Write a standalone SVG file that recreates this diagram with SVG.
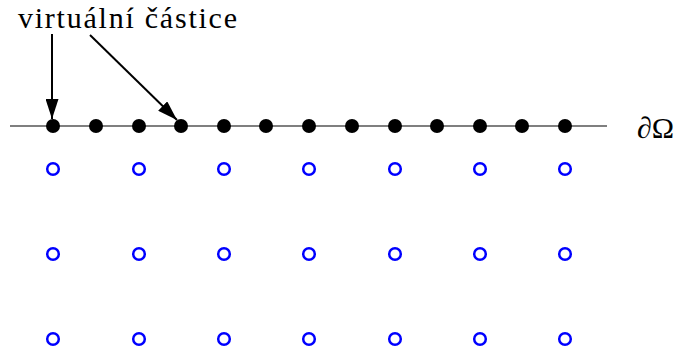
<svg xmlns="http://www.w3.org/2000/svg" width="681" height="358" viewBox="0 0 681 358">
<style>
.lbl{font-family:"Liberation Serif","DejaVu Serif",serif;font-size:30px;fill:#000}
.p{fill:#000}
.g{fill:none;stroke:#0000ff;stroke-width:2.5}
.c{stroke:#000;stroke-width:2;fill:none}
</style>
<defs>
<marker id="ah" viewBox="0 0 20 13" refX="20" refY="6.5" markerWidth="20" markerHeight="13" markerUnits="userSpaceOnUse" orient="auto">
<path d="M0,0 L20,6.5 L0,13 Z" fill="#000"/>
</marker>
</defs>
<line x1="10" y1="126" x2="607" y2="126" stroke="#555" stroke-width="1.5"/>
<g id="boundary">
<circle class="p" cx="53" cy="126" r="7"/>
<circle class="p" cx="96" cy="126" r="7"/>
<circle class="p" cx="139" cy="126" r="7"/>
<circle class="p" cx="181" cy="126" r="7"/>
<circle class="p" cx="224" cy="126" r="7"/>
<circle class="p" cx="266" cy="126" r="7"/>
<circle class="p" cx="309" cy="126" r="7"/>
<circle class="p" cx="352" cy="126" r="7"/>
<circle class="p" cx="395" cy="126" r="7"/>
<circle class="p" cx="437" cy="126" r="7"/>
<circle class="p" cx="480" cy="126" r="7"/>
<circle class="p" cx="522" cy="126" r="7"/>
<circle class="p" cx="565" cy="126" r="7"/>
</g>
<g id="interior">
<circle class="g" cx="53" cy="169" r="5.8"/><circle class="g" cx="139" cy="169" r="5.8"/><circle class="g" cx="224" cy="169" r="5.8"/><circle class="g" cx="309" cy="169" r="5.8"/><circle class="g" cx="395" cy="169" r="5.8"/><circle class="g" cx="480" cy="169" r="5.8"/><circle class="g" cx="565" cy="169" r="5.8"/>
<circle class="g" cx="53" cy="254" r="5.8"/><circle class="g" cx="139" cy="254" r="5.8"/><circle class="g" cx="224" cy="254" r="5.8"/><circle class="g" cx="309" cy="254" r="5.8"/><circle class="g" cx="395" cy="254" r="5.8"/><circle class="g" cx="480" cy="254" r="5.8"/><circle class="g" cx="565" cy="254" r="5.8"/>
<circle class="g" cx="53" cy="339" r="5.8"/><circle class="g" cx="139" cy="339" r="5.8"/><circle class="g" cx="224" cy="339" r="5.8"/><circle class="g" cx="309" cy="339" r="5.8"/><circle class="g" cx="395" cy="339" r="5.8"/><circle class="g" cx="480" cy="339" r="5.8"/><circle class="g" cx="565" cy="339" r="5.8"/>
</g>
<g id="label"><text class="lbl" x="18" y="28" textLength="219" lengthAdjust="spacing">virtuální částice</text></g>
<g id="omega"><text class="lbl" x="637" y="138">∂Ω</text></g>
<g id="connectors">
<line class="c" x1="52" y1="34" x2="52" y2="119" marker-end="url(#ah)"/>
<line class="c" x1="90" y1="35" x2="177" y2="120" marker-end="url(#ah)"/>
</g>
</svg>
